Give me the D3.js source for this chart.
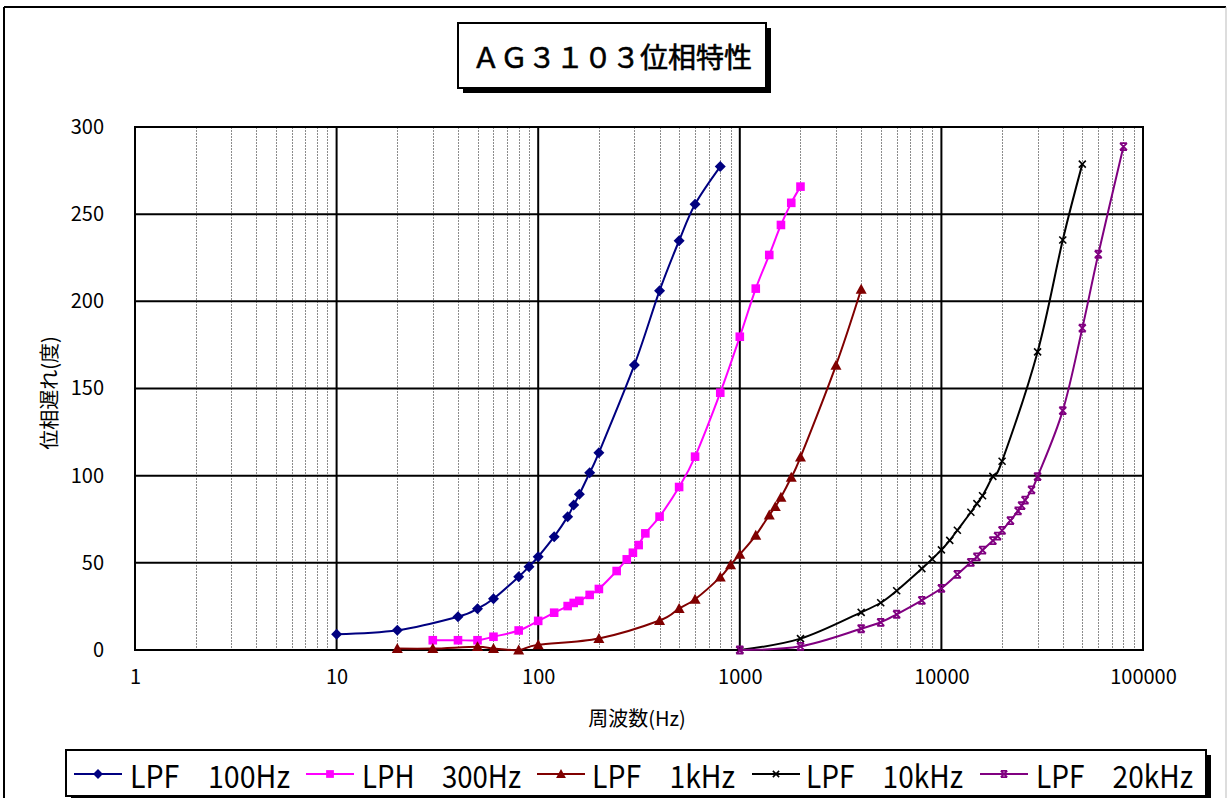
<!DOCTYPE html>
<html><head><meta charset="utf-8">
<script src="https://cdn.jsdelivr.net/npm/d3@7"></script>
<style>
html,body{margin:0;padding:0;background:#fff;}
svg{display:block;}
text{font-family:"Noto Sans CJK JP","Noto Sans",sans-serif;}
</style></head>
<body>
<svg id="chart" width="1227" height="798"></svg>
<script>
const titleText = "ＡＧ３１０３位相特性";
const yTitle = "位相遅れ(度)";
const xTitle = "周波数(Hz)";
const yTicks = [0, 50, 100, 150, 200, 250, 300];
const xTicks = [1, 10, 100, 1000, 10000, 100000];
const seriesNames = ["LPF　100Hz", "LPH　300Hz", "LPF　1kHz", "LPF　10kHz", "LPF　20kHz"];

const f100 = [10,20,40,50,60,80,90,100,120,140,150,160,180,200,300,400,500,600,800];
const v100 = [9.0,11.3,19.1,23.7,29.4,42,47.8,53.5,65,76.5,83.2,89.3,101.7,113.2,163.5,206.1,234.8,255.7,277.3];

const f300 = [30,40,50,60,80,100,120,140,150,160,180,200,245,275,295,315,340,400,500,600,800,1000,1200,1400,1600,1800,2000];
const v300 = [5.6,5.6,5.6,7.6,11.2,16.7,21.4,25.2,27,28.2,31.6,35,45.3,52,55.8,60.2,66.9,76.5,93.5,110.9,147.6,179.7,207.3,226.6,243.8,256.5,265.8];

const f1k = [20,30,50,60,80,100,200,400,500,600,800,900,1000,1200,1400,1500,1600,1800,2000,3000,4000];
const v1k = [0.8,0.8,1.9,0.8,0,3,6.6,16.9,23.8,29.1,41.8,48.9,54.8,65.8,77.4,82.2,87.6,99.1,110.6,163.3,206.9];

const f10k = [1000,2000,4000,5000,6000,8000,9000,10000,11000,12000,14000,15000,16000,18000,20000,30000,40000,50000];
const v10k = [0,6.5,21.6,27.1,34,46.7,52.2,57.4,62.9,68.7,79,84,88.5,99.6,108.3,171,235.2,278.7];

const f20k = [1000,2000,4000,5000,6000,8000,10000,12000,14000,15000,16000,18000,19000,20000,22000,24000,25000,26000,28000,30000,40000,50000,60000,80000];
const v20k = [0,2.1,12.2,15.9,20.5,28.5,35.4,43.4,50.3,53.4,57.3,62.7,65.3,68.6,74.2,79.8,82.8,86,91.8,99.4,137.3,184.6,227,288.8];

const colors = ["#000080", "#FF00FF", "#800000", "#000000", "#800080"];
const markers = ["diamond", "square", "triangle", "x", "star"];
const seriesData = [[f100,v100],[f300,v300],[f1k,v1k],[f10k,v10k],[f20k,v20k]];

const svg = d3.select("#chart");
const P = {l:135, r:1143, t:127, b:650};
const x = d3.scaleLog().domain([1,100000]).range([P.l, P.r]);
const y = d3.scaleLinear().domain([0,300]).range([P.b, P.t]);

// outer chart border
svg.append("line").attr("x1",4).attr("y1",7).attr("x2",4).attr("y2",800).attr("stroke","#000").attr("stroke-width",2);
svg.append("line").attr("x1",4).attr("y1",7).attr("x2",1226).attr("y2",7).attr("stroke","#000").attr("stroke-width",2);
svg.append("line").attr("x1",1226).attr("y1",7).attr("x2",1226).attr("y2",800).attr("stroke","#bbb").attr("stroke-width",1);

// title
svg.append("rect").attr("x",463).attr("y",28).attr("width",308).attr("height",65).attr("fill","#000");
svg.append("rect").attr("x",458).attr("y",23).attr("width",308).attr("height",65).attr("fill","#fff").attr("stroke","#000").attr("stroke-width",2);
svg.append("text").attr("x",612).attr("y",56).attr("text-anchor","middle").attr("dominant-baseline","central")
  .attr("font-size",28).attr("fill","#000").attr("stroke","#000").attr("stroke-width",0.6).text(titleText);

// minor grid
const minor = [];
for (let d = 1; d < 100000; d *= 10) for (let m = 2; m <= 9; m++) minor.push(d*m);
svg.append("g").selectAll("line").data(minor).join("line")
  .attr("x1", d => Math.round(x(d))+0.5).attr("x2", d => Math.round(x(d))+0.5)
  .attr("y1", P.t).attr("y2", P.b)
  .attr("stroke","#8c8c8c").attr("stroke-width",1).attr("stroke-dasharray","2,1");

// major grids
svg.append("g").selectAll("line").data(xTicks).join("line")
  .attr("x1", d => x(d)).attr("x2", d => x(d)).attr("y1", P.t).attr("y2", P.b)
  .attr("stroke","#000").attr("stroke-width",2);
svg.append("g").selectAll("line").data(yTicks).join("line")
  .attr("x1", P.l).attr("x2", P.r).attr("y1", d => y(d)).attr("y2", d => y(d))
  .attr("stroke","#000").attr("stroke-width",2);
svg.append("rect").attr("x",P.l).attr("y",P.t).attr("width",P.r-P.l).attr("height",P.b-P.t)
  .attr("fill","none").attr("stroke","#000").attr("stroke-width",2);

// axes labels
const yAxis = d3.axisLeft(y).tickValues(yTicks).tickSize(0).tickPadding(31);
const gy = svg.append("g").attr("transform",`translate(${P.l},0)`).call(yAxis);
gy.select(".domain").remove();
gy.selectAll("text").attr("font-size",20).attr("font-family","'Noto Sans CJK JP'").attr("fill","#000");

const xAxis = d3.axisBottom(x).tickValues(xTicks).tickFormat(d3.format("d")).tickSize(0).tickPadding(20);
const gx = svg.append("g").attr("transform",`translate(0,${P.b})`).call(xAxis);
gx.select(".domain").remove();
gx.selectAll("text").attr("font-size",20).attr("font-family","'Noto Sans CJK JP'").attr("fill","#000");

svg.append("text").attr("x",637).attr("y",717).attr("text-anchor","middle").attr("dominant-baseline","central")
  .attr("font-size",20).text(xTitle);
svg.append("text").attr("transform","translate(48,393) rotate(-90)").attr("text-anchor","middle").attr("dominant-baseline","central")
  .attr("font-size",20).text(yTitle);

// markers
function drawMarker(g, type, color, cx, cy, scale) {
  const s = scale || 1;
  if (type === "diamond") {
    const r = 5.5*s;
    g.append("path").attr("d",`M${cx},${cy-r}L${cx+r},${cy}L${cx},${cy+r}L${cx-r},${cy}Z`).attr("fill",color);
  } else if (type === "square") {
    const r = 4.3*s;
    g.append("rect").attr("x",cx-r).attr("y",cy-r).attr("width",2*r).attr("height",2*r).attr("fill",color);
  } else if (type === "triangle") {
    const r = 5.5*s;
    g.append("path").attr("d",`M${cx},${cy-r}L${cx+r},${cy+r*0.8}L${cx-r},${cy+r*0.8}Z`).attr("fill",color);
  } else if (type === "x") {
    const r = 3.5*s;
    g.append("path").attr("d",`M${cx-r},${cy-r}L${cx+r},${cy+r}M${cx+r},${cy-r}L${cx-r},${cy+r}`)
      .attr("stroke",color).attr("stroke-width",1.6).attr("fill","none");
  } else if (type === "star") {
    const r = 3.5*s;
    g.append("path").attr("d",`M${cx-r},${cy-r}L${cx+r},${cy+r}M${cx+r},${cy-r}L${cx-r},${cy+r}M${cx-r},${cy-r}L${cx+r},${cy-r}M${cx-r},${cy+r}L${cx+r},${cy+r}`)
      .attr("stroke",color).attr("stroke-width",1.8).attr("fill","none");
  }
}

const line = d3.line().x(d => x(d[0])).y(d => y(d[1])).curve(d3.curveCatmullRom.alpha(0));
seriesData.forEach((s, i) => {
  const pts = s[0].map((f, j) => [f, s[1][j]]);
  const g = svg.append("g");
  g.append("path").datum(pts).attr("d", line).attr("fill","none").attr("stroke",colors[i]).attr("stroke-width",2);
  pts.forEach(p => drawMarker(g, markers[i], colors[i], x(p[0]), y(p[1])));
});

// legend
svg.append("rect").attr("x",71).attr("y",755).attr("width",1140).attr("height",46).attr("fill","#000");
svg.append("rect").attr("x",66).attr("y",750).attr("width",1140).attr("height",46).attr("fill","#fff").attr("stroke","#000").attr("stroke-width",2);
const legX = [74, 306, 537, 752, 980];
const legTextX = [130, 362, 592, 806, 1036];
const legTextW = [160, 159, 143, 157, 157];
seriesNames.forEach((name, i) => {
  const g = svg.append("g");
  g.append("line").attr("x1",legX[i]).attr("x2",legX[i]+48).attr("y1",774).attr("y2",774).attr("stroke",colors[i]).attr("stroke-width",2);
  drawMarker(g, markers[i], colors[i], legX[i]+24, 774, 0.9);
  g.append("text").attr("x",legTextX[i]).attr("y",774).attr("dominant-baseline","central")
    .attr("font-size",31).attr("font-family","'Liberation Sans','Noto Sans',sans-serif")
    .attr("textLength",legTextW[i]).attr("lengthAdjust","spacingAndGlyphs").attr("xml:space","preserve").text(name);
});
</script>
</body></html>
